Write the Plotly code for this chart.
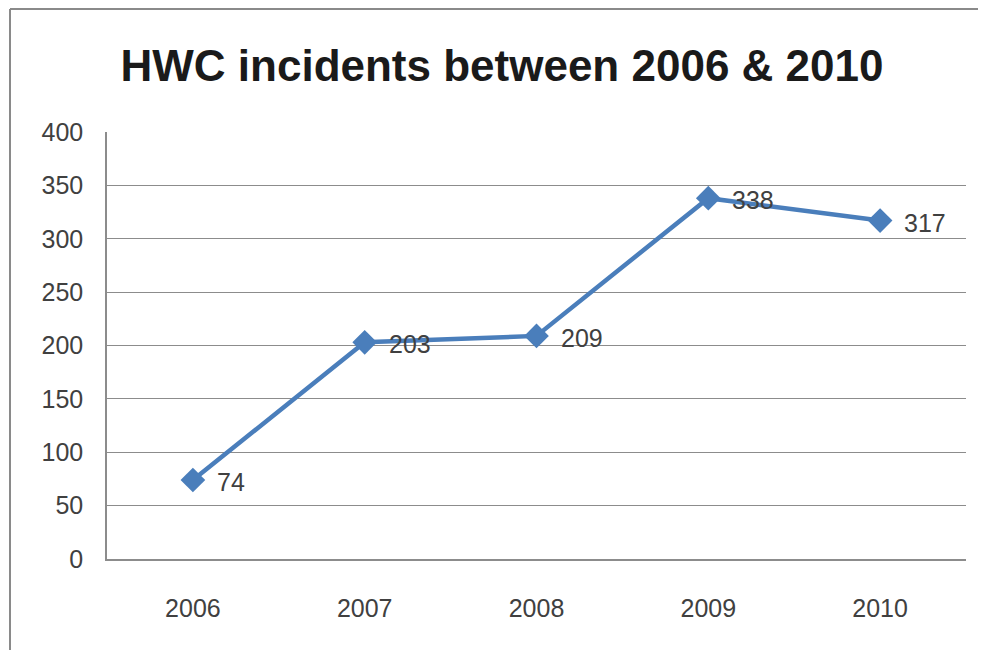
import plotly.graph_objects as go

years = ["2006", "2007", "2008", "2009", "2010"]
incidents = [74, 203, 209, 338, 317]
y_ticks = [0, 50, 100, 150, 200, 250, 300, 350, 400]

FONT = "Liberation Sans, Arial, sans-serif"
LINE_BLUE = "#4a7ebb"
TEXT = "#404040"
GRID = "#8c8c8c"

# page body has an 8px margin; compensate so the plot lands where the reference has it
OFF = 8
L, R, T, B = 107 - OFF, 986 - 966 + OFF, 132 - OFF, 650 - 559 + OFF
PW, PH = 986 - L - R, 650 - T - B

fig = go.Figure()
fig.add_trace(go.Scatter(
    x=years, y=incidents, mode="lines+markers",
    line=dict(color=LINE_BLUE, width=4.5),
    marker=dict(symbol="diamond", size=19, color=LINE_BLUE),
    hoverinfo="x+y", showlegend=False,
))

for i, v in enumerate(incidents):
    fig.add_annotation(x=i, y=v, xref="x", yref="y", text=str(v), showarrow=False,
                       xanchor="left", yanchor="middle", xshift=22, yshift=-2,
                       font=dict(family=FONT, size=25, color=TEXT))

fig.update_layout(
    width=986, height=650,
    paper_bgcolor="white", plot_bgcolor="white",
    margin=dict(l=L, r=R, t=T, b=B),
    title=dict(text="<b>HWC incidents between 2006 &amp; 2010</b>",
               x=(502 - OFF) / 986, xanchor="center", y=1 - (66 - OFF) / 650, yanchor="middle",
               font=dict(family=FONT, size=44, color="#1a1a1a")),
    font=dict(family=FONT, color=TEXT),
    xaxis=dict(type="category", range=[-0.5, 4.5], showgrid=False,
               showline=True, linecolor=GRID, linewidth=1.5,
               ticks="", tickfont=dict(family=FONT, size=25, color=TEXT),
               ticklabelstandoff=26, fixedrange=True),
    yaxis=dict(range=[0, 400], tickvals=y_ticks, showgrid=True,
               gridcolor=GRID, gridwidth=1.2, zeroline=False,
               showline=True, linecolor=GRID, linewidth=1.5,
               ticks="", tickfont=dict(family=FONT, size=25, color=TEXT),
               ticklabelstandoff=17, fixedrange=True),
    shapes=[
        dict(type="line", xref="paper", yref="paper",
             x0=(10 - 107) / PW, x1=(10 - 107) / PW, y0=-B / PH, y1=(559 - 9) / PH,
             line=dict(color="#8a8a8a", width=2)),
        dict(type="line", xref="paper", yref="paper",
             x0=(10 - 107) / PW, x1=(994 - 107) / PW, y0=(559 - 9) / PH, y1=(559 - 9) / PH,
             line=dict(color="#8a8a8a", width=2)),
    ],
)

fig.write_html("out.html")
